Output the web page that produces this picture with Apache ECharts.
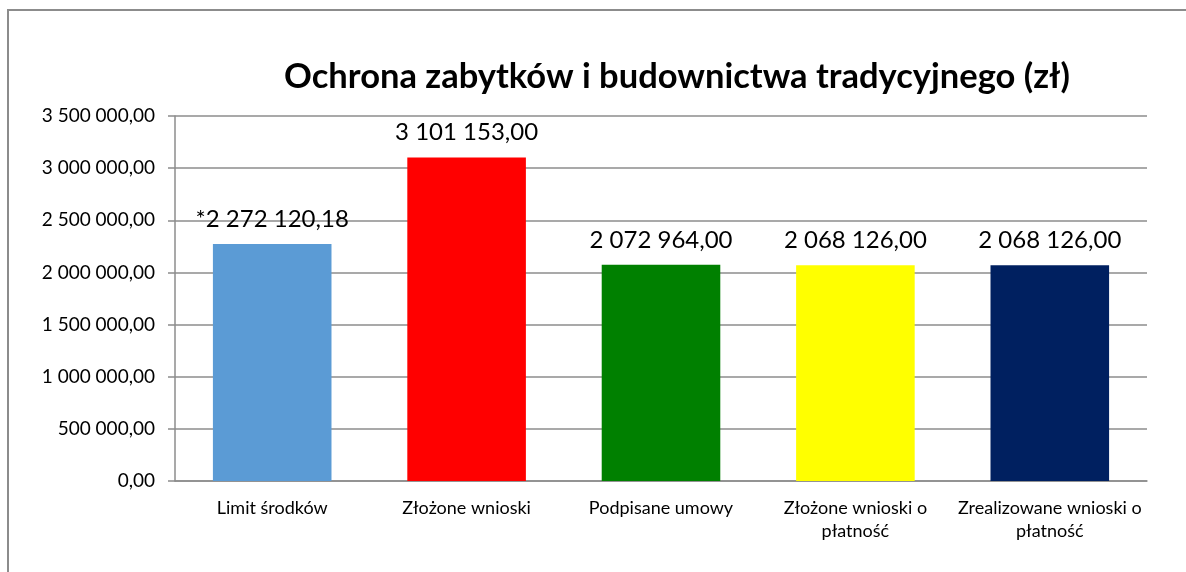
<!DOCTYPE html>
<html><head><meta charset="utf-8">
<script src="https://cdn.jsdelivr.net/npm/echarts@6/dist/echarts.min.js"></script>
<style>
html,body{margin:0;padding:0;background:#fff;overflow:hidden;width:1186px;height:572px;}
#frame{position:absolute;left:7px;top:9px;right:0;bottom:0;border-left:2px solid #8c8c8c;border-top:2px solid #8c8c8c;}
#c{position:absolute;left:0;top:0;width:1186px;height:572px;}
</style></head>
<body>
<div id="frame"></div>
<div id="c"></div>
<script>
const title = 'Ochrona zabytków i budownictwa tradycyjnego (zł)';
const categories = ['Limit środków', 'Złożone wnioski', 'Podpisane umowy', 'Złożone wnioski o płatność', 'Zrealizowane wnioski o płatność'];
const values = [2272120.18, 3101153.00, 2072964.00, 2068126.00, 2068126.00];
const valuePrefixes = ['*', '', '', '', ''];
const colors = ['#5B9BD5', '#FF0000', '#008000', '#FFFF00', '#002060'];
const yTicks = [0, 500000, 1000000, 1500000, 2000000, 2500000, 3000000, 3500000];

function fmt(v) {
  const parts = v.toFixed(2).split('.');
  const int = parts[0].replace(/\B(?=(\d{3})+(?!\d))/g, ' ');
  return int + ',' + parts[1];
}
const FONT = 'Lato';
const chart = echarts.init(document.getElementById('c'), null, {renderer: 'canvas'});
chart.setOption({
  animation: false,
  backgroundColor: 'transparent',
  title: {
    text: title, left: 672, top: 54, textAlign: 'center',
    textStyle: {fontFamily: FONT, fontWeight: 'bold', fontSize: 34.5, color: '#000'}
  },
  grid: {left: 175, right: 39, top: 116, bottom: 91, containLabel: false},
  xAxis: {
    type: 'category', data: categories,
    axisLine: {lineStyle: {color: '#8c8c8c', width: 1.5}},
    axisTick: {show: false},
    axisLabel: {
      interval: 0, margin: 16, color: '#000', fontFamily: FONT, fontSize: 18, lineHeight: 23,
      formatter: v => v.replace(' płatność', '\npłatność')
    }
  },
  yAxis: {
    type: 'value', min: yTicks[0], max: yTicks[yTicks.length - 1], interval: 500000,
    axisLine: {show: true, lineStyle: {color: '#8c8c8c', width: 1.5}},
    axisTick: {show: true, length: 7, lineStyle: {color: '#8c8c8c', width: 1.5}},
    splitLine: {lineStyle: {color: '#8c8c8c', width: 1.5}},
    axisLabel: {margin: 20, color: '#000', fontFamily: FONT, fontSize: 19, formatter: v => fmt(v)}
  },
  series: [{
    type: 'bar', barCategoryGap: '39%',
    data: values.map((v, i) => ({value: v, itemStyle: {color: colors[i]}})),
    label: {
      show: true, position: 'top', distance: 13, color: '#000', fontFamily: FONT, fontSize: 24,
      formatter: p => valuePrefixes[p.dataIndex] + fmt(p.value)
    }
  }]
});
</script>
</body></html>
